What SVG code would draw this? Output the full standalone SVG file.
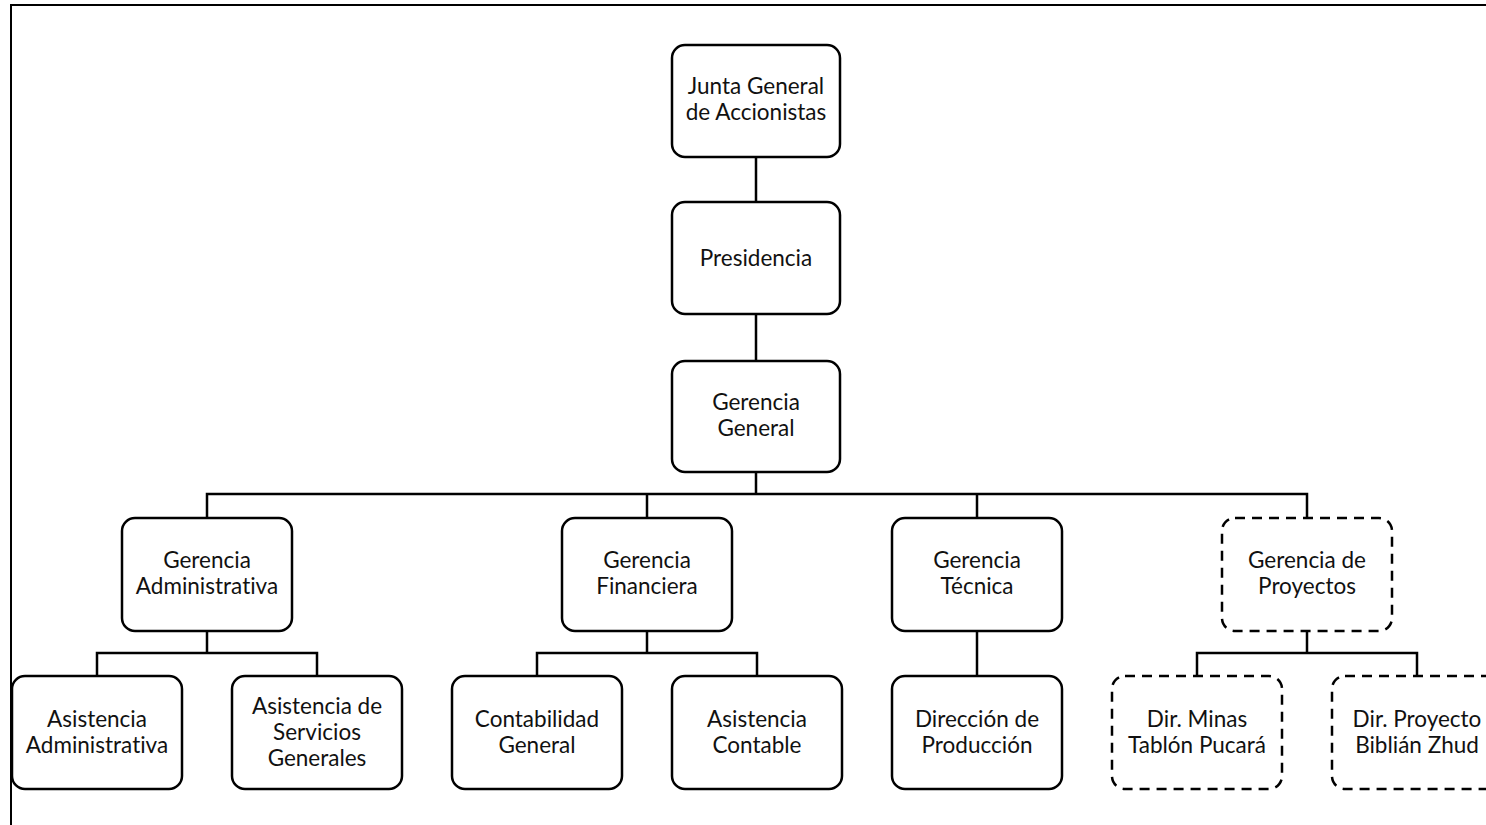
<svg xmlns="http://www.w3.org/2000/svg" width="1486" height="825" viewBox="0 0 1486 825">
  <style>
    .box { fill: #ffffff; stroke: #000000; stroke-width: 2.5; }
    .dash { stroke-dasharray: 10 7; }
    .lbl { font-family: "Lato", "Liberation Sans", sans-serif; font-size: 22.5px; fill: #111111; text-anchor: middle; font-variant-ligatures: none; }
    .wire { fill: none; stroke: #000000; stroke-width: 2.5; }
  </style>
  <rect width="1486" height="825" fill="#ffffff"/>
  <!-- page frame -->
  <rect x="11" y="5" width="1490" height="840" fill="none" stroke="#000000" stroke-width="2"/>

  <g id="connectors">
    <path class="wire" d="M756 157 V202 M756 314 V361 M756 472 V494"/>
    <path class="wire" d="M207 518 V494 H1307 V518 M647 494 V518 M977 494 V518"/>
    <path class="wire" d="M207 631 V653 M97 676 V653 H317 V676"/>
    <path class="wire" d="M647 631 V653 M537 676 V653 H757 V676"/>
    <path class="wire" d="M977 631 V676"/>
    <path class="wire" d="M1307 631 V653 M1197 676 V653 H1417 V676"/>
  </g>

  <g id="junta">
    <rect class="box" x="672" y="45" width="168" height="112" rx="13"/>
    <text class="lbl" x="756" y="94">Junta General</text>
    <text class="lbl" x="756" y="120">de Accionistas</text>
  </g>
  <g id="presidencia">
    <rect class="box" x="672" y="202" width="168" height="112" rx="13"/>
    <text class="lbl" x="756" y="266">Presidencia</text>
  </g>
  <g id="gerencia-general">
    <rect class="box" x="672" y="361" width="168" height="111" rx="13"/>
    <text class="lbl" x="756" y="410">Gerencia</text>
    <text class="lbl" x="756" y="436">General</text>
  </g>

  <g id="gerencia-administrativa">
    <rect class="box" x="122" y="518" width="170" height="113" rx="13"/>
    <text class="lbl" x="207" y="568">Gerencia</text>
    <text class="lbl" x="207" y="594">Administrativa</text>
  </g>
  <g id="gerencia-financiera">
    <rect class="box" x="562" y="518" width="170" height="113" rx="13"/>
    <text class="lbl" x="647" y="568">Gerencia</text>
    <text class="lbl" x="647" y="594">Financiera</text>
  </g>
  <g id="gerencia-tecnica">
    <rect class="box" x="892" y="518" width="170" height="113" rx="13"/>
    <text class="lbl" x="977" y="568">Gerencia</text>
    <text class="lbl" x="977" y="594">Técnica</text>
  </g>
  <g id="gerencia-proyectos">
    <rect class="box dash" x="1222" y="518" width="170" height="113" rx="13"/>
    <text class="lbl" x="1307" y="568">Gerencia de</text>
    <text class="lbl" x="1307" y="594">Proyectos</text>
  </g>

  <g id="asistencia-administrativa">
    <rect class="box" x="12" y="676" width="170" height="113" rx="13"/>
    <text class="lbl" x="97" y="727">Asistencia</text>
    <text class="lbl" x="97" y="753">Administrativa</text>
  </g>
  <g id="asistencia-servicios">
    <rect class="box" x="232" y="676" width="170" height="113" rx="13"/>
    <text class="lbl" x="317" y="714">Asistencia de</text>
    <text class="lbl" x="317" y="740">Servicios</text>
    <text class="lbl" x="317" y="766">Generales</text>
  </g>
  <g id="contabilidad-general">
    <rect class="box" x="452" y="676" width="170" height="113" rx="13"/>
    <text class="lbl" x="537" y="727">Contabilidad</text>
    <text class="lbl" x="537" y="753">General</text>
  </g>
  <g id="asistencia-contable">
    <rect class="box" x="672" y="676" width="170" height="113" rx="13"/>
    <text class="lbl" x="757" y="727">Asistencia</text>
    <text class="lbl" x="757" y="753">Contable</text>
  </g>
  <g id="direccion-produccion">
    <rect class="box" x="892" y="676" width="170" height="113" rx="13"/>
    <text class="lbl" x="977" y="727">Dirección de</text>
    <text class="lbl" x="977" y="753">Producción</text>
  </g>
  <g id="dir-minas">
    <rect class="box dash" x="1112" y="676" width="170" height="113" rx="13"/>
    <text class="lbl" x="1197" y="727">Dir. Minas</text>
    <text class="lbl" x="1197" y="753">Tablón Pucará</text>
  </g>
  <g id="dir-proyecto">
    <rect class="box dash" x="1332" y="676" width="170" height="113" rx="13"/>
    <text class="lbl" x="1417" y="727">Dir. Proyecto</text>
    <text class="lbl" x="1417" y="753">Biblián Zhud</text>
  </g>
</svg>
